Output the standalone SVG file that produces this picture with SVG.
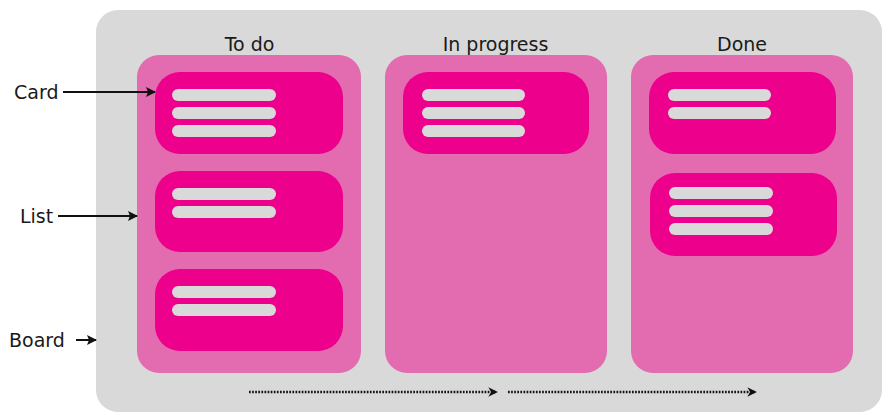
<svg xmlns="http://www.w3.org/2000/svg" width="885" height="412" viewBox="0 0 885 412">
<style>
.board{fill:#d9d9d9}
.list{fill:#e36cb0}
.card{fill:#ec008c}
.bar{fill:#d9d9d9}
.t{font-family:"DejaVu Sans",Verdana,sans-serif;font-size:19px;fill:#1a1a1a}
.ln{stroke:#111;stroke-width:2;fill:none}
.dot{stroke:#111;stroke-width:2.4;fill:none;stroke-dasharray:1.7 1.4}
</style>
<defs>
<marker id="ah" viewBox="0 0 10 10" refX="9" refY="5" markerWidth="5" markerHeight="5" orient="auto" markerUnits="strokeWidth">
<path d="M0,0 L10,5 L0,10 L2,5 z" fill="#111"/>
</marker>
<marker id="ah2" viewBox="0 0 10 10" refX="8" refY="5" markerWidth="4" markerHeight="4" orient="auto" markerUnits="strokeWidth">
<path d="M0,0 L10,5 L0,10 L3,5 z" fill="#111"/>
</marker>
</defs>
<g id="board">
<rect class="board" x="96" y="10" width="786" height="402" rx="22"/>
</g>
<g id="list-todo">
<rect class="list" x="137" y="55" width="224" height="318" rx="22"/>
<text class="t" x="249.5" y="51" text-anchor="middle">To do</text>
</g>
<g id="list-inprogress">
<rect class="list" x="385" y="55" width="222" height="318" rx="22"/>
<text class="t" x="495.5" y="51" text-anchor="middle">In progress</text>
</g>
<g id="list-done">
<rect class="list" x="631" y="55" width="222" height="318" rx="22"/>
<text class="t" x="742" y="51" text-anchor="middle">Done</text>
</g>
<g id="card-todo-1">
<rect class="card" x="155" y="72" width="188" height="82" rx="25"/>
<rect class="bar" x="172" y="89" width="104" height="12" rx="6"/>
<rect class="bar" x="172" y="107" width="104" height="12" rx="6"/>
<rect class="bar" x="172" y="125" width="104" height="12" rx="6"/>
</g>
<g id="card-todo-2">
<rect class="card" x="155" y="171" width="188" height="81" rx="25"/>
<rect class="bar" x="172" y="188" width="104" height="12" rx="6"/>
<rect class="bar" x="172" y="206" width="104" height="12" rx="6"/>
</g>
<g id="card-todo-3">
<rect class="card" x="155" y="269" width="188" height="82" rx="25"/>
<rect class="bar" x="172" y="286" width="104" height="12" rx="6"/>
<rect class="bar" x="172" y="304" width="104" height="12" rx="6"/>
</g>
<g id="card-inprogress-1">
<rect class="card" x="403" y="72" width="186" height="82" rx="25"/>
<rect class="bar" x="422" y="89" width="103" height="12" rx="6"/>
<rect class="bar" x="422" y="107" width="103" height="12" rx="6"/>
<rect class="bar" x="422" y="125" width="103" height="12" rx="6"/>
</g>
<g id="card-done-1">
<rect class="card" x="649" y="72" width="187" height="82" rx="25"/>
<rect class="bar" x="668" y="89" width="103" height="12" rx="6"/>
<rect class="bar" x="668" y="107" width="103" height="12" rx="6"/>
</g>
<g id="card-done-2">
<rect class="card" x="650" y="173" width="187" height="83" rx="25"/>
<rect class="bar" x="669" y="187" width="104" height="12" rx="6"/>
<rect class="bar" x="669" y="205" width="104" height="12" rx="6"/>
<rect class="bar" x="669" y="223" width="104" height="12" rx="6"/>
</g>
<g id="label-card">
<text class="t" x="14" y="99">Card</text>
</g>
<g id="label-list">
<text class="t" x="20" y="223">List</text>
</g>
<g id="label-board">
<text class="t" x="9" y="347">Board</text>
</g>
<g id="connectors">
<line class="ln" x1="63" y1="92" x2="155" y2="92" marker-end="url(#ah)"/>
<line class="ln" x1="58" y1="216" x2="137" y2="216" marker-end="url(#ah)"/>
<line class="ln" x1="76" y1="340" x2="96" y2="340" marker-end="url(#ah)"/>
<line class="dot" x1="249" y1="392" x2="496" y2="392" marker-end="url(#ah2)"/>
<line class="dot" x1="508" y1="392" x2="755" y2="392" marker-end="url(#ah2)"/>
</g>
</svg>
